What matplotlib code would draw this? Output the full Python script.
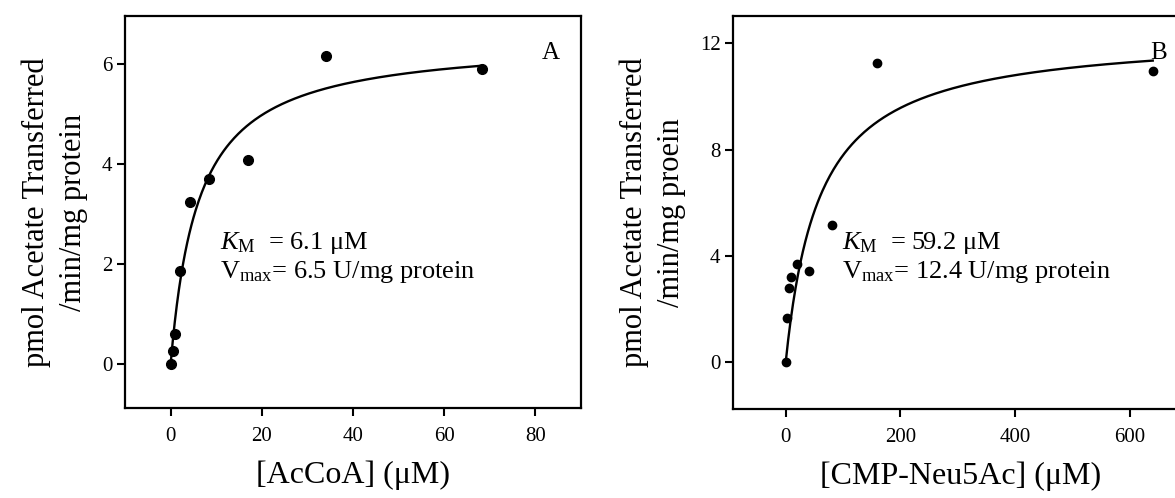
#!/usr/bin/env python
import numpy as np
import matplotlib
matplotlib.use('Agg')
import matplotlib.pyplot as plt

plt.rcParams['font.family'] = ['Liberation Serif', 'DejaVu Serif']
plt.rcParams['mathtext.fontset'] = 'custom'
plt.rcParams['mathtext.rm'] = 'Liberation Serif'
plt.rcParams['mathtext.it'] = 'Liberation Serif:italic'

# Panel A: AcCoA
acoa_conc = [0, 0.53, 1.07, 2.13, 4.27, 8.53, 17.07, 34.13, 68.27]
acoa_rate = [0.0, 0.27, 0.61, 1.87, 3.24, 3.71, 4.08, 6.17, 5.91]
acoa_km = 6.1
acoa_vmax = 6.5

# Panel B: CMP-Neu5Ac
cmp_conc = [0, 2.5, 5, 10, 20, 40, 80, 160, 640]
cmp_rate = [0.0, 1.64, 2.79, 3.20, 3.69, 3.44, 5.15, 11.26, 10.96]
cmp_km = 59.2
cmp_vmax = 12.4

ylabel_a = 'pmol Acetate Transferred\n/min/mg protein'
ylabel_b = 'pmol Acetate Transferred\n/min/mg proein'


def style_axes(ax):
    for s in ax.spines.values():
        s.set_linewidth(1.6)
    ax.tick_params(direction='out', length=6, width=1.5, labelsize=15)
    ax.tick_params(axis='x', pad=8)
    ax.tick_params(axis='y', pad=3)


def panel(ax, conc, rate, km, vmax, ms):
    xs = np.linspace(0, max(conc), 300)
    ax.plot(xs, vmax * xs / (km + xs), color='black', lw=1.7)
    ax.plot(conc, rate, 'o', color='black', ms=ms)
    style_axes(ax)


fig = plt.figure(figsize=(11.75, 4.98), dpi=100)

ax1 = fig.add_axes([0.1064, 0.1807, 0.388, 0.7872])
panel(ax1, acoa_conc, acoa_rate, acoa_km, acoa_vmax, 7)
ax1.set_xlim(-10, 90)
ax1.set_ylim(-0.87, 6.96)
ax1.set_xticks([0, 20, 40, 60, 80])
ax1.set_yticks([0, 2, 4, 6])
ax1.set_xlabel('[AcCoA] (μM)', fontsize=23, labelpad=10)
ax1.set_ylabel(ylabel_a, fontsize=22, labelpad=10, linespacing=1.35)
ax1.text(10.9, 2.31, r'$K_{\mathrm{M}}$  = %.1f μM' % acoa_km, fontsize=19, va='baseline')
ax1.text(10.9, 1.73, r'V$_{\mathrm{max}}$= %.1f U/mg protein' % acoa_vmax, fontsize=19, va='baseline')
ax1.text(81.5, 6.1, 'A', fontsize=18, va='baseline')

ax2 = fig.add_axes([0.6238, 0.1787, 0.388, 0.7892])
panel(ax2, cmp_conc, cmp_rate, cmp_km, cmp_vmax, 6)
ax2.set_xlim(-92, 703)
ax2.set_ylim(-1.77, 13.03)
ax2.set_xticks([0, 200, 400, 600])
ax2.set_yticks([0, 4, 8, 12])
ax2.set_xlabel('[CMP-Neu5Ac] (μM)', fontsize=23, labelpad=10)
ax2.set_ylabel(ylabel_b, fontsize=22, labelpad=10, linespacing=1.35)
ax2.text(97.6, 4.24, r'$K_{\mathrm{M}}$  = %.1f μM' % cmp_km, fontsize=19, va='baseline')
ax2.text(97.6, 3.15, r'V$_{\mathrm{max}}$= %.1f U/mg protein' % cmp_vmax, fontsize=19, va='baseline')
ax2.text(636, 11.4, 'B', fontsize=18, va='baseline')

plt.savefig('out.png', dpi=100)
